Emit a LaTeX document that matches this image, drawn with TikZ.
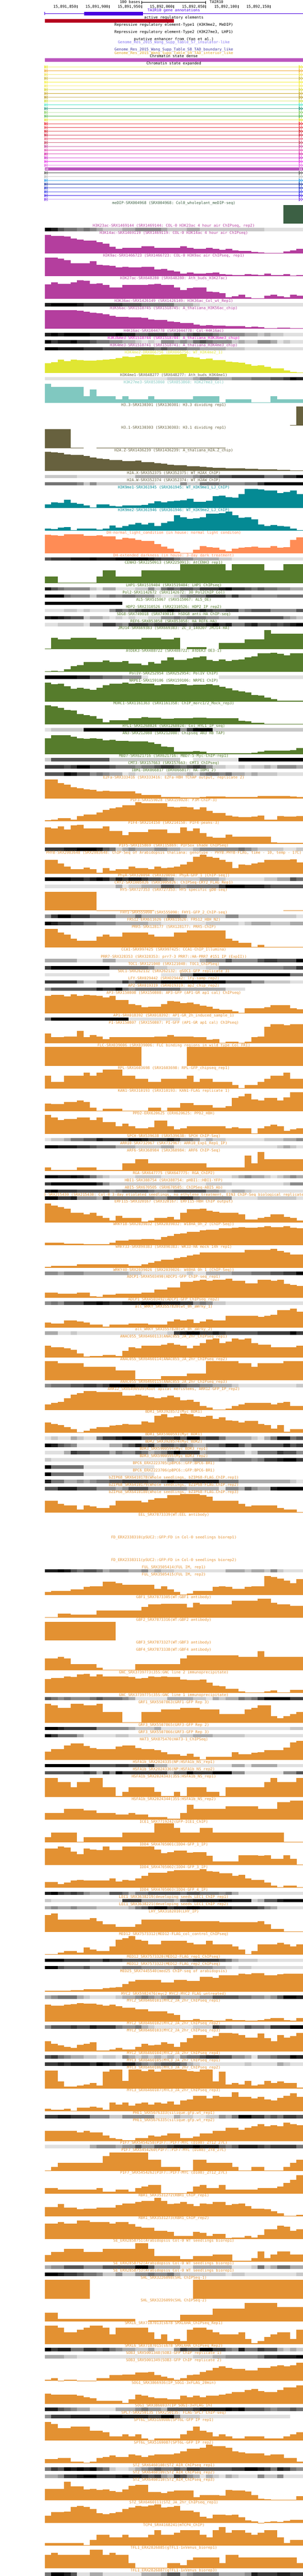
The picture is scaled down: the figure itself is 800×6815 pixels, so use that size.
\documentclass[tikz,border=0pt]{standalone}
\usepackage{fontspec}
\setmonofont{DejaVu Sans Mono}
\definecolor{ctair}{RGB}{72,0,224}
\definecolor{cred}{RGB}{181,0,30}
\definecolor{cdense}{RGB}{187,85,190}
\definecolor{csseven}{RGB}{128,112,240}
\definecolor{cseight}{RGB}{64,56,160}
\definecolor{csnine}{RGB}{218,165,32}
\definecolor{cmedip}{RGB}{60,96,68}
\definecolor{cmag}{RGB}{180,62,158}
\definecolor{cmagb}{RGB}{225,10,195}
\definecolor{cyel}{RGB}{224,230,50}
\definecolor{colv}{RGB}{103,97,62}
\definecolor{cltl}{RGB}{128,200,192}
\definecolor{cteal}{RGB}{4,138,148}
\definecolor{csal}{RGB}{255,140,85}
\definecolor{cgrn}{RGB}{86,124,44}
\definecolor{corg}{RGB}{227,145,50}
\definecolor{g1}{RGB}{224,224,224}
\definecolor{g2}{RGB}{200,200,200}
\definecolor{g3}{RGB}{170,170,170}
\definecolor{g4}{RGB}{140,140,140}
\definecolor{g5}{RGB}{115,115,115}
\definecolor{g6}{RGB}{85,85,85}
\definecolor{g7}{RGB}{58,58,58}
\definecolor{g8}{RGB}{30,30,30}
\definecolor{g9}{RGB}{0,0,0}
\tikzset{ttl/.style={font=\ttfamily\fontsize{5}{5}\selectfont,inner sep=0pt,anchor=base}}
\newcount\ty
\newcount\tk
% bar graph track: colour, title, 40 heights
\newcommand{\wig}[3]{%
	\global\advance\tk by 1
	\begin{scope}
		\clip (118,\the\ty-7) rectangle (800,\the\ty+7);
		\node[ttl,text=#1] (t\the\tk) at (459,\the\ty+3.5) {#2};
	\end{scope}
	\foreach \hh [count=\ii] in {#3} {\ifnum\hh>0\relax \fill[#1] ({118+(\ii-1)*17.05},\the\ty+55) rectangle ++(17.35,-\hh);\fi}
	\global\advance\ty by 60\relax}
% dense track: title colour, title, 40 grey levels
\newcommand{\dens}[3]{%
	\global\advance\tk by 1
	\begin{scope}
		\clip (118,\the\ty-7) rectangle (800,\the\ty+7);
		\node[ttl,text=#1] (t\the\tk) at (459,\the\ty+3.5) {#2};
	\end{scope}
	\foreach \gg [count=\ii] in {#3} {\ifnum\gg>0\relax \fill[g\gg] ({118+(\ii-1)*17.05},\the\ty+5.5) rectangle ++(17.35,9);\fi}
	\global\advance\ty by 19\relax}
\begin{document}
\begin{tikzpicture}[x=.5pt,y=-.5pt,line width=.5pt]
	\useasboundingbox (0,0) rectangle (800,6815);
	%\draw (118,0) rectangle (800,6815);
	\node[ttl,anchor=base east] (scl) at (371,9.5) {100 bases};
	\draw (374,2.5) -- (374,10.5) (374,6.5) -- (543,6.5) (543,2.5) -- (543,10.5);
	\node[ttl,anchor=base west] (asm) at (553,9.5) {TAIR10};
	\foreach \lb [count=\ii from 0] in {{15,891,850},{15,891,900},{15,891,950},{15,892,000},{15,892,050},{15,892,100},{15,892,150}} {
		\pgfmathsetmacro\xx{203.6+84.95*\ii}
		\draw (\xx,13) -- (\xx,22);
		\node[ttl,anchor=base east] (r\ii) at (\xx-2,21.5) {\lb};
	}
	\node[ttl,text=ctair] (gene) at (459,30.5) {TAIR10 gene annotations};
	\draw[ctair] (118,36) -- (800,36) (118,32) -- (118,40);
	\fill[ctair] (222,31.5) rectangle (377.5,41);
	\node[ttl] (are) at (459,49.5) {active regulatory elements};
	\fill[cred] (118,51) rectangle (459,60);
	\node[ttl] (rre1) at (459,68.5) {Repressive regulatory element-Type1 (H3K9me2, MeDIP)};
	\node[ttl] (rre2) at (459,87.5) {Repressive regulatory element-Type2 (H3K27me3, LHP1)};
	\node[ttl] (enh) at (459,106.5) {putative enhancer from (Yan et al.)};
	\node[ttl,text=csseven] (sseven) at (459,115.5) {Genome\_Res\_2015\_Wang\_Supp\_Table\_S7\_insulator-like};
	\node[ttl,text=cseight] (seight) at (459,134.5) {Genome\_Res\_2015\_Wang\_Supp\_Table\_S8\_TAD\_boundary\_like};
	\node[ttl,text=csnine] (snine) at (459,143.5) {Genome\_Res\_2015\_Wang\_Supp\_Table\_S9\_TAD\_interior\_like};
	\node[ttl] (csd) at (459,152.5) {Chromatin state dense};
	\fill[cdense] (118,154) rectangle (800,163);
	\node[ttl] (cse) at (459,171.5) {Chromatin state expanded};
	\foreach \cc [count=\kk from 0] in {E8E41C,F0A830,F0E048,C8B432,F5F032,F5E650,D2D21E,C8A82A,B4961E,C8DC32,50E6C8,1E9678,78C850,50B450,DCDC1E,E6141E,E63C46,D2141E,C81432,E65A78,BE3250,BE3C96,DC46AA,D214A0,C81EC8,E632E6,E65AE6,BA55BE,505050,B4B4B4,1E96E6,0A2896,1428C8,2832E6,3C1EE6,7832E6} {
		\edef\tmp{\noexpand\definecolor{cl}{HTML}{\cc}}\tmp
		\pgfmathsetmacro\yy{177.3+10*\kk}
		\ifnum\kk=27
			\fill[cl] (118,\yy-4) rectangle (800,\yy+4);
			\fill[white] (120,\yy) -- (123,\yy-2.5) -- (123,\yy+2.5) -- cycle (124,\yy) -- (127,\yy-2.5) -- (127,\yy+2.5) -- cycle (798,\yy) -- (795,\yy-2.5) -- (795,\yy+2.5) -- cycle (794,\yy) -- (791,\yy-2.5) -- (791,\yy+2.5) -- cycle;
		\else
			\draw[cl] (118,\yy) -- (800,\yy) (118,\yy-4) -- (118,\yy+4) (122,\yy-4) -- (119,\yy) -- (122,\yy+4) (126,\yy-4) -- (123,\yy) -- (126,\yy+4) (790,\yy-4) -- (794,\yy) -- (790,\yy+4) -- cycle (795,\yy-4) -- (799,\yy) -- (795,\yy+4);
		\fi
	}
	\global\ty=537
	\global\tk=0
	\wig{cmedip}{meDIP-SRX004968 (SRX004968: Col0\_wholeplant\_meDIP-seq)}{0,0,0,0,0,0,0,0,0,0,0,0,0,0,0,0,0,0,0,0,0,0,0,0,0,0,0,0,0,0,0,0,0,0,0,0,0,50,50,50}
	\dens{cmag}{H3K23ac-SRX1469144 (SRX1469144: COL-0 H3K23ac 4 hour air ChIPseq, rep2)}{9,8,6,5,5,4,5,4,3,2,2,2,3,3,4,4,4,4,3,2,2,2,3,3,2,2,2,2,2,2,2,2,2,2,1,1,1,1,1,1}
	\wig{cmag}{H3K14ac-SRX1469119 (SRX1469119: COL-0 H3K14ac 4 hour air ChIPseq)}{50,47,47,46,40,37,34,35,31,26,18,13,15,15,15,19,19,16,16,16,15,19,16,13,12,15,13,10,13,9,7,7,4,3,2,2,2,6,9,12}
	\wig{cmag}{H3K9ac-SRX1466723 (SRX1466723: COL-0 H3K9ac air ChIPseq, rep1)}{50,49,47,43,35,35,35,40,31,29,28,24,25,24,24,25,25,18,19,16,13,7,10,7,7,8,10,6,4,3,3,6,4,3,7,3,3,6,2,3}
	\wig{cmag}{H3K27ac-SRX648280 (SRX648280: Ath\_buds\_H3K27ac)}{39,44,40,40,44,50,48,40,42,37,31,31,37,37,37,37,39,40,37,37,31,24,29,31,31,20,18,16,5,7,11,5,2,2,9,11,7,5,11,9}
	\dens{cmag}{H3K36ac-SRX1426149 (SRX1426149: H3K36ac\_Col\_wt\_Rep1)}{8,9,9,9,9,8,7,7,7,7,7,7,6,6,6,5,5,5,5,5,3,3,3,2,1,1,1,1,1,1,1,1,1,1,1,1,1,1,1,1}
	\wig{cmag}{H3K56ac-SRX1518745 (SRX1518745: A\_thaliana\_H3K56ac\_chip)}{50,49,49,50,49,48,45,42,41,38,35,32,32,31,31,29,25,24,23,20,18,16,15,11,9,10,9,8,7,7,7,5,6,5,2,2,3,3,2,2}
	\dens{cmag}{H4K16ac-SRX1044778 (SRX1044778: Col-H4K16ac)}{8,9,8,9,9,9,9,8,8,8,8,9,8,8,6,6,7,7,7,6,7,5,6,7,6,6,5,4,4,4,4,3,3,2,3,2,2,1,1,1}
	\dens{cmagb}{H3K36me3-SRX1518744 (SRX1518744: A\_thaliana\_H3K36me3\_chip)}{9,7,8,8,9,7,7,6,5,5,4,4,3,3,2,1,2,1,4,4,3,4,3,5,6,5,4,4,4,2,3,2,2,4,4,3,1,2,1,1}
	\dens{cmag}{H3K4me3-SRX1518741 (SRX1518741: A\_thaliana\_H3K4me3\_chip)}{9,9,8,8,8,8,7,7,7,6,6,6,6,6,6,6,6,5,6,5,5,5,4,4,3,3,3,3,2,2,2,1,1,1,1,1,1,1,1,1}
	\wig{cyel}{H3K4me2-DRX066756 (DRX066756: WT\_H3K4me2\_1)}{26,29,35,32,36,34,33,33,34,36,37,40,44,43,45,49,49,48,49,49,49,50,43,41,37,38,34,34,30,29,28,24,19,21,17,12,13,7,3,1}
	\dens{colv}{H3K4me1-SRX648277 (SRX648277: Ath\_buds\_H3K4me1)}{1,1,1,1,1,1,1,1,1,1,1,1,1,1,1,1,1,1,1,2,2,2,2,3,4,4,4,3,3,4,4,4,5,5,5,6,6,7,9,8}
	\wig{cltl}{H3K27me3-SRX853860 (SRX853860: H3K27me3\_Col)}{50,43,43,43,43,43,18,35,18,18,18,10,18,10,10,10,18,10,10,10,10,10,10,18,18,18,18,2,10,10,10,10,2,2,2,18,10,10,10,10}
	\wig{colv}{H3.3-SRX130301 (SRX130301: H3.3 dividing rep1)}{0,0,0,0,0,0,0,0,0,0,0,0,0,0,0,0,0,0,0,0,0,0,0,0,0,0,0,0,0,0,0,0,0,0,0,0,0,0,2,50}
	\wig{colv}{H3.1-SRX130303 (SRX130303: H3.1 dividing rep1)}{50,50,50,50,2,2,0,0,2,2,2,2,2,2,2,2,2,2,2,2,2,2,2,2,2,2,2,2}
	\wig{colv}{H2A.Z-SRX1436239 (SRX1436239: A\_thaliana\_H2A.Z\_chip)}{50,49,48,44,43,43,40,36,33,31,29,29,26,26,27,24,24,21,19,17,15,15,13,13,11,10,9,8,7,7,7,6,6,5,4,4,3,3,2,2}
	\dens{colv}{H2A.X-SRX352375 (SRX352375: WT\_H2AX\_ChIP)}{2,2,2,2,2,1,1,1,1,1,1,1,1,1,3,3,3,3,3,3,3,3,3,4,5,5,5,6,6,7,7,7,7,7,5,5,5,7,7,9}
	\dens{colv}{H2A.W-SRX352374 (SRX352374: WT\_H2AW\_ChIP)}{5,5,5,5,5,4,2,4,2,2,2,2,2,2,2,2,2,1,1,1,1,4,2,2,5,5,5,4,4,4,4,5,5,7,9,9,9,9,9,9}
	\wig{cteal}{H3K9me1-SRX361945 (SRX361945: WT\_H3K9me1\_LJ\_ChIP)}{9,15,14,22,14,11,7,2,9,9,6,4,7,7,7,8,12,18,15,18,19,21,25,17,17,19,31,33,29,27,37,50,50,49,46,46,39,43,46,37}
	\wig{cteal}{H3K9me2-SRX361946 (SRX361946: WT\_H3K9me2\_LJ\_ChIP)}{5,4,8,9,1,5,5,6,3,6,14,8,13,16,21,17,20,13,21,24,41,35,32,33,35,45,45,47,50,41,34,35,30,17,13,15,12,11,5,1}
	\wig{csal}{DH-normal\_light\_condition (in house: normal light conditon)}{49,48,46,50,50,50,46,47,48,45,45,37,41,40,36,33,33,25,18,13,4,2,2,10,19,16,15,10,5,13,15,17,18,15,15,19,15,17,36,42}
	\dens{csal}{DH-extended\_darkness (in house: 3-day dark treatment)}{6,7,7,7,8,8,8,9,8,8,8,9,9,9,9,9,8,7,6,6,5,4,4,3,3,3,3,2,2,1,1,1,1,1,1,1,1,1,1,1}
	\wig{cgrn}{CENH3-SRX2250913 (SRX2250913: AtCENH3\_rep1)}{18,18,2,2,2,2,2,2,18,34,34,18,18,18,18,34,34,34,34,34,34,50,50,50,50,50,50,50,34,50,50,50,50,50,34,34,34,50,50,50}
	\dens{cgrn}{LHP1-SRX1519404 (SRX1519404: LHP1 ChIPseq)}{8,6,5,4,4,4,4,2,1,3,3,1,1,1,2,2,4,2,5,6,5,6,6,5,7,7,7,8,9,7,7,6,5,6,5,5,4,4,3,3}
	\dens{cgrn}{Pol2-SRX1142672 (SRX1142672: 30\_Pol2ChIP\_Col)}{9,9,9,5,4,4,4,2,4,4,5,4,5,5,4,4,4,2,1,1,2,4,5,5,5,7,7,7,5,7,5,5,4,4,4,4,5,5,5,5}
	\dens{cgrn}{AL5-SRX515067 (SRX515067: AL5\_OE)}{9,9,9,9,9,9,9,9,9,9,9,9}
	\dens{cgrn}{HDP2-SRX2310526 (SRX2310526: HDP2 IP rep2)}{1,1,1,2,2,1,2,1,1,1,4,6,5,6,7,8,8,8,8,9,8,7,7,7,8,7,6,6,7,7,4,5,6,6,6,4,4,4,4,6}
	\dens{cgrn}{SDG8-SRX749018 (SRX749018: hSDG8 anti-HA ChIP-seq)}{8,9,8,7,6,6,2,3,3,2,1,2,1,2,1,1,2,2,4,4,5,4,5,5,5,4,4,3,3,3,6,6,6,6,6,6,6,4,3,2}
	\dens{cgrn}{REF6-SRX853858 (SRX853858: HA\_REF6-HA)}{1,1,2,2,2,2,1,4,4,7,7,5,4,7,7,7,6,7,7,7,7,7,6,7,7,8,9,7,8,5,5,7,8,6,6,7,6,7,8,9}
	\wig{cgrn}{JMJ14-SRX669383 (SRX669383: ZC\_3\_140207 JMJ14-HA)}{1,30,25,25,30,30,30,30,25,25,25,25,25,25,25,30,30,30,25,25,30,0,5,5,5,0,0,16,16,16,16,25,25,25,50,41,41,41,41,41}
	\wig{cgrn}{AtDEK3-SRX488722 (SRX488722: AtDEK3 OE3-1)}{1,2,1,6,14,17,26,26,26,30,26,26,28,21,22,17,25,22,30,38,31,31,35,38,40,31,28,32,28,31,32,38,40,49,49,50,47,43,49,49}
	\dens{cgrn}{PolIV-SRX252954 (SRX252954: PolIV ChIP)}{9,9,9,9,9,8,8,6,6,5,5,5,4,4,4,1,0,0,0,0,0,0,0,0,0,0,0,1,1,1,1,1,1,1,1,1,1,1,1,1}
	\wig{cgrn}{NRPE1-SRX159106 (SRX159106: NRPE1 ChIP)}{50,46,48,41,34,36,34,31,37,43,48,48,50,48,49,48,47,43,46,46,45,46,43,44,45,46,43,39,35,30,27,24,18,16,11,7,3,2,2,3}
	\wig{cgrn}{MORC1-SRX1161363 (SRX1161358: ChIP\_morc1/2\_Mock\_rep3)}{50,48,43,38,36,27,24,21,14,5,11,11,11,16,16,19,18,18,14,14,16,16,16,17,17,16,16,16,16,16,9,8,4,4,1,1,1,1,1,1}
	\dens{cgrn}{HYL1-SRX1268024 (SRX1268024: Col\_HYL1\_IP\_seq)}{1,2,2,2,2,2,9,9,9,9,9,9,9,9,9,9,9,9,9,9,9,4,7,9,9,9,2,2,2,2,2,2,2,2,2,2,2,2,2,2}
	\wig{cgrn}{AN3-SRX212080 (SRX212080: Chipseq AN3 HB TAP)}{42,50,50,50,46,42,40,42,40,36,38,35,35,33,33,33,31,27,20,18,7,7,7,8,7,2,2,2,2,2,2,2,4,7,9,9,9,9,11,16}
	\dens{cgrn}{MBD7-SRX621716 (SRX621716: MBD7-5-Myc-ChIP-rep1)}{2,6,6,6,6,6,6,6,6,6,2,2,2,2,2,2,2,2,2,2,2,0,0,1,1,1,1,1,1,1,9,9,9,9,9,9,9,9,9,9}
	\dens{cgrn}{CMT3-SRX157663 (SRX157663: CMT3\_ChIPseq)}{7,7,7,6,7,9,9,7,7,7,6,5,5,5,4,5,5,6,7,7,6,5,6,7,6,4,2,2,1,1,2,1,2,2,3,2,4,4,4,3}
	\dens{cgrn}{IBM1-DRX066817 (DRX066817: HA-IBM1\_2)}{6,6,6,9,8,6,6,4,5,4,3,3,1,2,1,1,1,1,1,2,2,2,3,2,4,5,5,4,5,3,3,2,3,2,2,2,1,1,1,1}
	\wig{corg}{E2Fa-SRX333416 (SRX333416: E2Fa-HBH TChAP output, replicate 2)}{50,50,40,36,30,27,24,22,19,20,19,19,19,19,13,9,9,9,4,4,4,2,2,2,4,5,5,5,4,4,4,4,4,6,6,6,6,6,5,4}
	\wig{corg}{PIF3-SRX159028 (SRX159028: P3M-ChIP-3)}{2,4,8,8,4,13,17,17,22,30,33,36,42,42,50,47,47,47,47,37,36,37,36,31,36,26,21,21,15,11,10,10,11,15,4,4,13,11,11,13}
	\wig{corg}{PIF4-SRX214150 (SRX214150: PIF4-peaks-3)}{43,40,46,37,49,50,40,40,40,46,34,34,22,31,31,31,37,37,37,28,28,43,34,40,28,19,16,16,24,19,19,19,19,19,19,4,2,2,2,2}
	\dens{corg}{PIF5-SRX115869 (SRX115869: PIF5ox shade ChIPSeq)}{7,7,7,8,8,9,9,9,8,6,5,2,3,4,3,3,3,4,4,3,3,2,2,3,4,4,4,4,4,4,5,4,3,2,2,2,2,1,1,2}
	\wig{corg}{PHYB-SRX2083648 (SRX2083648: ChIP-Seq of Arabidopsis thaliana: genotype - PHYB:PHYB-FLAG, time - 10, temp - 17C)}{36,36,27,18,11,11,16,11,2,14,7,12,12,18,14,14,12,18,14,16,18,24,31,45,50,45,42,36,31,14,24,22,27,29,36,36,36,36,38,29}
	\dens{corg}{PhyA-SRX320094 (SRX320094: PhyA-GFP\_1 [ChIP-seq])}{9,9,9,9,8,8,7,8,9,8,6,8,7,8,8,7,6,6,5,4,2,2,2,2,3,3,3,2,1,1,1,1,1,1,2,2,3,3,6,5}
	\dens{corg}{CRY2-SRX1005826 (SRX1005826: ChIPSeq-CRY2\_FLAG\_Rep1)}{1,1,1,1,1,1,1,1,1,1,1,3,1,2,2,3,3,3,6,6,5,4,5,5,5,5,5,7,9,9,9,8,8,8,7,6,6,6,6,6}
	\wig{corg}{HY5-SRX727353 (SRX727353: HY5 specific gDB-seq)}{50,50,50,50,50,50,50,50,1,1,1,1,1,1,1,1,1,0,0,0,0,0,0,0,0,0,0,0,0,0,0,0,0,0,0,0,0,1,1,1}
	\dens{corg}{FHY1-SRX555090 (SRX555090: FHY1-GFP\_2\_ChIP-seq)}{4,7,9,9,7,7,7,5,5,5,5,3,3,3,5,3,3,3,3,5,5,4,2,2,2,2,2,2,4,4,2,2,2,2,2,2,2,2,2,1}
	\dens{corg}{FRS12-ERX611626 (ERX611626: FRS12\_HBH\_N2)}{9,8,7,7,6,6,5,5,4,4,4,3,3,3,3,3,2,2,1,1,1,1,1,1,1,2,2,2,2,2,1,2,3,3,3,2,2,2,3,3}
	\wig{corg}{PRR5-SRX128177 (SRX128177: PRR5-ChIP)}{50,50,40,35,24,18,18,18,29,35,29,29,40,40,40,40,35,29,29,29,40,40,46,46,46,46,46,46,24,18,13,13,2,7,2,2,2,2,2,2}
	\dens{corg}{CCA1-SRX997425 (SRX997425: CCA1-ChIP\_Illumina)}{0}
	\dens{corg}{PRR7-SRX328353 (SRX328353: prr7-3 PRR7::HA-PRR7 \#151 IP (ExpII))}{3,3,3,3,3,1,1,1,1,3,3,1,1,1,1,1,1,1,1,1,1,1,1,1,3,4,4,4,6,4,4,4,4,6,7,7,6,6,6,9}
	\dens{corg}{TOC1-SRX121040 (SRX121040: TOC1\_ChIPSeq)}{7,9,9,9,9,9,9,9,9,9,5,5,5,5,5,5,4,2,2,1,1,1,1,1,1,2,2,4,4,4,4,4,4,4,4,4,4,5,5,7}
	\dens{corg}{SOC1-SRX262132 (SRX262132: gSOC1-GFP replicate 3)}{1,1,1,1,1,1,1,1,1,1,0,0,0,0,0,0,0,0,1,1,1,5,5,9,9,9,9,9,9,9,9,9,9,9,9,9,9,9,5,5}
	\dens{corg}{LFY-SRX029442 (SRX029442: lfy-samp-rep2)}{7,7,7,7,7,4,2,2,4,4,4,4,7,5,7,7,7,7,9,9,9,9,9,9,9,9,9,9,6,6,6,6,4,4,2,2,2,2,1,1}
	\dens{corg}{AP2-SRX019319 (SRX019319: ap2\_chip\_rep2)}{4,6,6,6,6,6,6,6,8,7,7,9,5,4,5,5,5,5,5,5,5,3,3,3,3,3,3,3,1,1,1}
	\wig{corg}{AP3-SRX150808 (SRX150808: AP3-GFP (AP1-GR ap1 cal) ChIPseq)}{47,49,49,45,50,47,49,48,47,42,47,36,36,25,22,16,18,18,24,33,31,27,29,24,20,18,12,9,9,5,2,13,13,13,16,22,22,22,13,11}
	\dens{corg}{AP1-SRX018392 (SRX018392: AP1-GR\_2h\_induced\_sample\_1)}{5,9,9,9,9,9,9,9,9,9,9,9,9,1,1,1,1,1,1,1,1}
	\wig{corg}{PI-SRX150807 (SRX150807: PI-GFP (AP1-GR ap1 cal) ChIPseq)}{26,16,16,18,18,33,16,22,18,11,16,16,16,16,16,16,16,18,18,22,18,18,18,16,16,9,11,2,4,4,2,4,16,18,44,50,50,48,50,50}
	\wig{corg}{FLC-SRX039006 (SRX039006: FLC binding regions in wild type Col FRI)}{50,50,50,50,50,50,50,50,50,50,50,50,50,50,50,0,0,0,0,0,0,0,50,50,50,50,50,50,50,50,50,50,50,50,50,50,50,50,50,50}
	\wig{corg}{RPL-SRX1603698 (SRX1603698: RPL-GFP\_chipseq\_rep1)}{34,18,18,34,34,34,42,34,42,50,50,50,34,34,26,26,18,18,26,26,26,26,34,18,26,26,18,18,18,9,2,9,9,18,26,34,34,42,26,26}
	\wig{corg}{KAN1-SRX310193 (SRX310193: KAN1-FLAG replicate 1)}{20,19,19,24,24,29,24,10,2,7,7,7,2,2,2,2,10,10,2,9,9,22,22,17,17,17,10,10,13,35,39,46,32,29,35,35,28,37,50,50}
	\wig{corg}{PPD2-ERX620625 (ERX620625: PPD2\_HBH)}{50,44,37,40,40,44,44,37,44,31,31,21,27,21,15,15,18,35,35,21,12,15,21,21,21,21,21,21,15,18,15,15,2,15,21,24,21,8,12,15}
	\dens{corg}{SPCH-SRX539638 (SRX539638: SPCH ChIP-Seq)}{1,2,2,3,5,5,6,6,8,7,7,7,7,9,9,8,7,7,7,8,7,5,5,4,2,3,2,2,1,1,1,1,1,1,2,2,2,3,3,4}
	\dens{corg}{ARR10-SRX732967 (SRX732967: ARR10\_Exp1\_Rep1\_IP)}{9,9,8,8,8,7,7,6,5,5,5,3,3,3,2,2,2,2,3,3,1,1,1,1,1,1,1,1,1,1,1,1,1,1,1,1,2,3,2,1}
	\wig{corg}{ARF6-SRX368984 (SRX368984: ARF6 ChIP-Seq)}{10,2,2,2,2,10,10,10,2,2,2,2,20,20,31,31,20,20,20,20,20,20,20,20,20,10,10,10,10,10,10,41,20,50,31,31,31,31,31,31}
	\dens{corg}{RGA-SRX647775 (SRX647775: RGA\_ChIP2)}{9,9,8,8,9,8,7,5,3,2,1,1,1,1,2,2,2,2,1,1,1,1,1,1,1,1,1,1,1,2,3,4,3,3,2,1,2,3,4,3}
	\dens{corg}{HBI1-SRX388754 (SRX388754: pHBI1::HBI1-YFP)}{7,9,9,9,9,9,9,9,7,4,2,2,2,2,2,2,2,2,2,2,2,1,1,1,1,2,2,2,2,1,1,1,1,1,1,1,1,2,4,4}
	\dens{corg}{ABI5-SRX670505 (SRX670505: ChIPSeq-ABI5\_Ab)}{8,9,7,7,7,6,6,6,6,6,4,5,6,6,6,6,5,4,4,5,6,6,6,6,6,4,4,3,2,3,3,2,1,1,1,1,1,1,1,1}
	\dens{corg}{EIN3-SRX215430 (SRX215430: Col-0 3-day etiolated seedlings, no ethylene treatment, EIN3 ChIP-Seq biological replicate 1)}{9,9,7,7,8,4,4,4,3,7,5,5,5,5,5,5,5,4,4,6,6,7,7,5,4,4,4,4,4,1,1,1,1,2,2,2,2,2,2,1}
	\wig{corg}{ERF115-SRX320167 (SRX320167: ERF115-HBH ChIP output)}{50,45,41,37,25,25,21,25,17,12,5,17,12,12,12,2,5,12,12,15,8,25,35,35,37,31,28,25,25,25,21,8,8,12,15,21,21,15,12,5}
	\wig{corg}{WRKY18-SRX2039032 (SRX2039032: W18HA\_0h\_2 (ChIP-Seq))}{6,6,6,4,4,4,2,2,2,2,6,12,12,14,14,16,16,14,22,24,29,31,35,35,39,41,41,44,44,46,48,46,46,48,50,48,48,50,46,44}
	\wig{corg}{WRKY33-SRX890383 (SRX890383: WK33-HA mock 14h rep1)}{2,5,5,5,5,9,9,9,9,9,9,9,9,5,5,9,13,17,21,21,25,28,32,35,40,40,40,40,40,40,40,48,48,48,48,50,44,40,35,35}
	\dens{corg}{WRKY40-SRX2039026 (SRX2039026: W40HA\_0h\_1 (ChIP-Seq))}{4,4,3,4,4,4,3,3,3,3,3,3,3,2,2,1,1,1,1,1,1,1,2,1,1,3,3,3,3,4,4,4,5,5,5,6,6,7,7,9}
	\wig{corg}{ADCP1-SRX4503490(ADCP1-GFP ChIP-seq\_rep1)}{13,13,11,11,11,13,13,4,2,8,8,11,11,11,11,13,13,22,22,27,27,42,42,44,47,45,47,47,50,44,44,38,38,47,47,44,47,36,34,31}
	\dens{corg}{ADCP1\_SRX4503492(ADCP1-GFP\_ChIPseq\_rep2)}{4,5,4,6,6,6,8,8,9,8,7,7,8,8,8,9,9,9,8,8,8,7,7,4,5,4,2,2,1,1,1,1,1,1,1,1,1,1,1,1}
	\wig{corg}{all\_WRKY\_SRX3557820(wt\_0h\_aWrky\_1)}{13,10,10,19,19,16,13,8,8,2,8,8,8,10,10,10,8,8,8,16,22,19,22,12,16,22,19,19,31,31,31,31,31,28,31,33,46,46,50,42}
	\dens{corg}{all\_WRKY\_SRX3557828(wt\_0h\_aWrky\_2)}{3,3,1,1,2,1,1,1,1,1,1,1,1,1,1,1,1,1,1,2,7,8,9,9,7,7,8,7,6,6,6,6,6,7,7,7,7,7,9,7}
	\wig{corg}{ANAC055\_SRX6460113(ANAC055\_JA\_2hr\_ChIPseq\_rep1)}{31,27,27,24,20,11,2,4,4,7,7,4,17,27,24,31,31,31,34,38,34,31,24,31,38,47,50,38,42,50,47,50,38,34,34,27,27,27,27,31}
	\wig{corg}{ANAC055\_SRX6460114(ANAC055\_JA\_2hr\_ChIPseq\_rep2)}{50,50,44,44,44,44,35,35,35,35,35,26,26,26,2,2,2,2,10,10,10,10,17,17,17,50,50,50,50,50,44,44,35,44,44,44,44,50,50,50}
	\dens{corg}{ANAC055\_SRX6460115(ANAC055\_JA\_2hr\_ChIPseq\_rep3)}{4,5,5,5,6,6,7,7,6,7,9,9,9,9,8,8,9,9,8,7,7,6,5,5,4,4,3,3,3,2,1,1,1,1,1,1,1,1,1,2}
	\wig{corg}{ARR12\_SRX6490939(Root apical meristems, ARR12-GFP\_IP\_rep2)}{14,18,21,31,41,44,50,50,47,47,47,47,38,38,41,38,34,31,34,38,34,25,27,21,11,7,1,1,4,11,14,18,18,18,18,14,18,21,11,11}
	\wig{corg}{BDR1\_SRX3928572(Myc\_BDR1)}{27,23,20,14,9,1,5,11,15,14,18,20,23,21,21,29,27,44,49,40,43,50,49,43,42,44,36,40,32,31,27,31,31,23,20,11,20,2,9,9}
	\dens{corg}{BDR1\_SRX5900593(Myc BDR1)}{1,2,1,1,3,2,1,1,5,7,7,8,9,9,9,6,6,6,7,7,8,6,9,9,6,7,7,5,3,3,3,3,2,1,3,5,8,8,5,6}
	\dens{corg}{BDR2\_SRX3928574(Myc\_BDR2)}{9,8,6,5,4,1,1,1,1,1,3,3,5,6,8,6,7,4,6,6,5,6,4,3,3,5,5,6,8,8,6,4,6,6,6,6,6,8,6,7}
	\dens{corg}{BDR3\_SRX5900594(Myc BDR3 rep1)}{1,1,1,3,7,6,6,5,5,5,3,5,4,4,6,5,3,4,5,7,9,7,7,7,3,4,4,4,3,3,3,1,2,5,5,5,7,6,6,4}
	\dens{corg}{BDR3\_SRX5900595(Myc BDR3 rep2)}{2,1,1,1,1,1,1,1,1,1,1,1,1,1,1,1,1,1,1,3,2,3,3,4,4,4,4,5,4,5,5,5,4,5,7,7,8,9,9,7}
	\dens{corg}{BPC6\_ERX2223705(pBPC6::GFP:BPC6-BR1)}{9,5,5,5,5,5,1,1,1,1,1,1,1,1,1,1,1}
	\dens{corg}{BPC6\_ERX2223706(pBPC6::GFP:BPC6-BR1)}{9,5,5,5,5,5,1,1,1,1,1,1,1,1,1,1,1}
	\dens{corg}{bZIP68\_SRX6410178(Whole seedlings, bZIP68-FLAG.ChIP.rep1)}{8,5,5,3,3,4,3,4,5,5,6,6,7,7,7,7,6,6,7,9,8,8,8,8,8,8,8,5,5,5,3,3,3,3,3,3,3,3,2,1}
	\dens{corg}{bZIP68\_SRX6410179(Whole seedlings, bZIP68-FLAG.ChIP.rep2)}{6,6,8,8,8,6,6,6,4,4,4,3,4,6,6,6,4,4,4,4,4,4,3,3,3,3,3,1,4,4,3,6,4,3,3,8,9,9,9,9}
	\wig{corg}{bZIP68\_SRX6410180(Whole seedlings, bZIP68-FLAG.ChIP.rep3)}{31,31,24,20,20,8,20,16,12,12,20,31,31,31,31,27,35,39,39,47,47,50,50,50,47,43,31,31,31,31,24,16,20,20,20,20,12,8,8,2}
	\wig{corg}{EEL\_SRX7873339(WT:EEL antibody)}{0}
	\wig{corg}{FD\_ERX2338310(pSUC2::GFP:FD in Col-0 seedlings biorep1)}{0}
	\dens{corg}{FD\_ERX2338311(pSUC2::GFP:FD in Col-0 seedlings biorep2)}{0}
	\dens{corg}{FUL\_SRX3505414(FUL IM, rep1)}{8,8,9,8,6,5,6,6,5,3,4,4,4,3,3,4,2,3,2,2,1,1,1,1,1,1,1,1,3,3,3,2,3,3,2,4,2,1,1,1}
	\wig{corg}{FUL\_SRX3505415(FUL IM, rep2)}{8,11,11,11,15,15,22,24,24,35,35,31,28,28,28,28,28,17,24,15,8,2,4,11,11,11,22,24,22,17,17,22,24,24,50,48,44,38,31,42}
	\wig{corg}{GBF1\_SRX7873305(WT:GBF1 antibody)}{1,1,11,11,8,8,8,8,19,19,19,19,19,19,19,29,35,35,37,37,37,37,27,40,35,35,35,35,35,45,45,45,45,50,50,40,35,35,32,32}
	\wig{corg}{GBF2\_SRX7873316(WT:GBF2 antibody)}{50,50,50,50,50,50,50,50,50,50,50}
	\dens{corg}{GBF3\_SRX7873327(WT:GBF3 antibody)}{0}
	\wig{corg}{GBF4\_SRX7873338(WT:GBF4 antibody)}{31,31,36,31,17,17,17,17,7,2,2,2,2,2,17,17,17,17,17,17,17,31,40,40,40,40,40,40,40,40,36,36,36,50,36,36,36,36,36,36}
	\wig{corg}{GNC\_SRX3739773(35S:GNC line 2 immunoprecipitate)}{37,40,40,44,42,49,50,44,49,44,44,44,44,42,38,40,44,42,44,42,42,36,34,34,36,27,20,18,11,11,4,2,2,2,4,7,2,2,9,9}
	\dens{corg}{GNC\_SRX3739775(35S:GNC line 1 immunoprecipitate)}{6,5,4,5,4,4,4,5,6,5,5,5,4,3,1,1,1,1,1,3,3,3,3,2,2,1,3,2,3,3,5,4,5,7,9,9,9,9,7,7}
	\wig{corg}{GRF1\_SRX5507863(GRF1-GFP Rep 3)}{50,46,40,40,50,50,46,46,50,29,29,29,2,2,2,29,29,29,35,35,35,40,40,40,35,35,35,24,24,24,24,35,40,46,46,18,13,18,24,29}
	\dens{corg}{GRF3\_SRX5507865(GRF3-GFP Rep 2)}{9,9,8,7,7,7,7,7,4,4,4,4,4,3,2,2,2,3,1,1,1,1,1,1,1,1,1,1,1,1,1,1,1,1,1,1,1,1,2,2}
	\dens{corg}{GRF3\_SRX5507866(GRF3-GFP Rep 3)}{9,7,5,5,5,3,1,1,1,1,1,2,2,1,1,1,1,1,1,1,1,2,2,3,3,3,2,2,2,2,2,1,1,1,1,1,1,1,1,1}
	\wig{corg}{HAT3\_SRX875470(HAT3-1\_ChIPSeq)}{22,29,29,38,44,44,37,31,29,29,29,36,38,38,32,28,28,26,20,15,15,11,17,8,2,8,8,8,8,21,15,15,19,21,26,26,26,33,46,50}
	\dens{corg}{HSFA1b\_SRX2024335(NP:HSFA1b\_NS\_rep1)}{9,9,9,9,9,9,9,6,6,6,6,7,7,6,6,6,7,3,3,1,1,1,1,1,1,1,1,1,1,3,3,1,3,3,3,3,1,1,1,1}
	\dens{corg}{HSFA1b\_SRX2024336(NP:HSFA1b\_NS\_rep2)}{6,6,6,6,6,6,7,6,3,7,4,9,7,7,7,7,7,7,7,4,6,6,9,7,7,7,9,9,9,4,4,1,1,1,1,1,1,4,4,6}
	\wig{corg}{HSFA1b\_SRX2024343(35S:HSFA1b\_NS\_rep1)}{50,50,39,39,26,39,39,50,50,26,26,2,14,26,26,26,26,14,2,2,14,2,26,26,26,14,14,2,26,26,26,26,26,26,39,50,39,39,39,50}
	\wig{corg}{HSFA1b\_SRX2024344(35S:HSFA1b\_NS\_rep2)}{18,18,18,29,29,29,24,24,18,18,18,13,13,18,13,13,7,7,7,2,2,18,40,29,29,29,29,29,35,35,35,35,35,29,29,29,46,46,50,50}
	\wig{corg}{ICE1\_SRX7719242(GFP-ICE1\_ChIP)}{13,26,26,26,26,1,13,13,13,13,13,13,26,26,26,26,26,50,50,50,38,26,26,26,38,38,26,26,26,26,26,26,26,26,26,26,26,1,1,1}
	\wig{corg}{IDD4\_SRX4705001(IDD4-GFP\_1\_IP)}{43,43,49,47,36,28,43,41,39,49,39,39,49,49,49,49,49,41,31,34,38,38,33,34,34,25,9,9,9,9,26,26,26,25,26,16,16,26,16,2}
	\wig{corg}{IDD4\_SRX4705002(IDD4-GFP\_3\_IP)}{15,15,10,13,19,20,19,19,19,19,24,17,20,19,24,32,39,39,39,44,46,46,47,47,49,44,42,38,38,31,34,24,20,21,13,5,1,6,6,1}
	\dens{corg}{IDD4\_SRX4705003(IDD4-GFP\_4\_IP)}{8,9,7,6,7,6,4,3,3,3,6,6,5,3,5,5,6,6,6,6,6,5,6,6,5,5,5,4,5,3,1,1,1,1,1,1,1,1,1,1}
	\dens{corg}{LEC1\_SRX3638219(developing seeds\_LEC1\_ChIP rep1)}{2,1,1,1,1,1,1,1,1,1,1,1,7,7,7,4,4,4,4,4,3,6,7,8,8,8,8,9,9,8,8,8,2,3,6,6,8,9,9,9}
	\dens{corg}{LEC1\_SRX3638221(developing seeds\_LEC1\_ChIP rep2)}{3,4,3,3,4,3,3,3,2,2,2,2,2,3,5,6,8,9,9,7,8,8,9,9,8,8,8,8,8,7,7,7,7,6,4,3,1,1,1,1}
	\wig{corg}{LHY\_SRX3182010(LHY\_IP)}{45,49,33,33,33,33,33,36,29,20,20,13,13,13,20,33,33,33,33,33,33,29,29,29,29,29,29,26,26,26,26,26,26,29,20,8,8,1,1,1}
	\wig{corg}{MED12\_SRX7573312(MED12-FLAG\_col\_control\_ChIPseq)}{1,1,5,9,9,5,19,14,9,9,22,40,44,49,40,36,27,27,36,36,36,36,31,27,27,36,27,27,27,22,14,1,9,27,27,27,31,27,22,27}
	\dens{corg}{MED12\_SRX7573320(MED12-FLAG\_rep1\_ChIPseq)}{9,9,9,7,7,7,7,6,6,8,7,7,6,6,6,6,6,6,6,6,6,6,6,7,7,7,7,6,5,3,2,2,2,1,1,1,1,1,1,1}
	\dens{corg}{MED12\_SRX7573322(MED12-FLAG\_rep2\_ChIPseq)}{9,9,6,5,5,5,6,4,4,4,4,4,5,5,5,4,4,4,4,4,5,5,5,4,4,4,3,3,2,1,2,2,1,1,1,1,1,1,1,1}
	\wig{corg}{MED25\_SRX7445540(med25 ChIP-seq of arabidopsis)}{2,2,2,2,4,4,7,7,7,9,11,12,20,27,31,31,31,31,24,24,31,31,28,28,39,39,36,44,44,44,48,46,49,49,44,44,46,48,48,48}
	\dens{corg}{MYC2\_SRX5982476(myc2\_MYC2:MYC2\_FLAG\_untreated)}{3,4,5,5,5,3,2,1,1,1,1,2,3,3,4,5,4,3,4,5,5,3,3,3,4,4,6,6,6,6,5,5,4,4,3,4,6,9,9,8}
	\wig{corg}{MYC2\_SRX6460101(MYC2\_JA\_2hr\_ChIPseq\_rep1)}{44,42,42,44,46,49,47,48,45,42,44,40,36,36,33,33,27,27,27,21,17,4,4,7,4,4,2,3,6,4,4,3,3,4,7,9,9,4,3,9}
	\dens{corg}{MYC2\_SRX6460102(MYC2\_JA\_2hr\_ChIPseq\_rep2)}{4,6,6,6,7,6,6,8,7,7,7,5,4,4,5,3,2,1,1,1,1,1,1,2,2,2,7,6,5,4,4,6,5,5,4,7,7,7,9,9}
	\wig{corg}{MYC2\_SRX6460103(MYC2\_JA\_2hr\_ChIPseq\_rep3)}{27,20,16,12,9,18,20,24,2,3,5,9,5,5,12,20,16,18,24,20,12,24,35,43,43,36,41,49,49,47,43,37,37,47,35,27,43,37,41,49}
	\dens{corg}{MYC2\_SRX6460104(MYC2\_JA\_2hr\_ChIPseq\_rep4)}{6,7,5,4,3,3,2,2,1,2,2,1,4,3,2,3,2,3,2,3,2,4,5,5,6,7,7,6,6,4,4,3,1,4,4,5,6,6,9,8}
	\dens{corg}{MYC3\_SRX6460105(MYC3\_JA\_2hr\_ChIPseq\_rep1)}{7,7,8,7,8,8,8,7,9,8,7,6,8,8,6,5,4,5,6,6,6,5,3,2,1,1,1,1,1,1,1,2,1,1,1,1,3,2,1,1}
	\wig{corg}{MYC3\_SRX6460106(MYC3\_JA\_2hr\_ChIPseq\_rep2)}{47,47,18,5,5,8,10,15,8,44,50,50,20,50,50,46,50,44,50,50,50,50,46,45,50,50,18,44,10,15,10,20,8,10,20,15,18,15,15,2}
	\wig{corg}{MYC3\_SRX6460107(MYC3\_JA\_2hr\_ChIPseq\_rep3)}{6,3,3,6,1,9,9,12,9,3,22,17,22,14,20,22,17,22,20,26,17,28,31,41,41,34,41,38,38,50,38,38,34,38,31,28,35,41,47,38}
	\dens{corg}{PHE1\_SRX5676333(silique.gfp.wt\_rep1)}{7,7,8,8,7,7,7,4,4,4,2,2,4,4,4,4,4,1,1,1,3,2,2,1,1,2,2,4,3,5,9,9,7,7,5,6,5,7,7,6}
	\wig{corg}{PHE1\_SRX5676335(silique.gfp.wt\_rep2)}{27,27,27,27,27,23,27,23,23,15,8,5,2,2,8,8,15,12,15,20,20,8,8,12,20,20,27,27,35,35,30,35,39,45,39,42,39,49,45,42}
	\dens{corg}{PIF7\_SRX5454258(PIF7::PIF7-MYC (D108)\_ZT12\_27C)}{1,1,1,1,1,1,1,3,4,4,4,3,4,4,6,4,4,6,6,7,8,8,8,9,8,8,8,6,5,6,8,8,8,7,6,7,7,7,7,5}
	\wig{corg}{PIF7\_SRX5454260(PIF7::PIF7-MYC (D108)\_ZT8\_27C)}{1,10,21,21,21,21,21,21,21,39,48,48,48,48,48,48,29,29,10,10,10,1,1,29,29,21,21,21,21,10,1,1,10,10,1,1,1,10,21,29}
	\wig{corg}{PIF7\_SRX5454262(PIF7::PIF7-MYC (D108)\_ZT12\_27C)}{14,14,10,10,10,10,10,10,14,5,5,10,10,5,14,18,23,23,1,1,1,1,5,18,23,14,14,23,10,10,10,10,10,14,14,14,18,28,36,49}
	\wig{corg}{RBR1\_SRX3531272(RBR1\_ChIP\_rep1)}{24,24,32,22,22,18,20,20,22,22,22,29,34,34,37,40,40,48,40,32,34,37,32,27,34,32,37,37,29,32,34,27,20,20,18,13,8,1,1,3}
	\wig{corg}{RBR1\_SRX3531273(RBR1\_ChIP\_rep2)}{40,40,44,40,40,49,49,44,44,44,40,44,44,39,32,29,29,21,21,19,8,8,8,19,16,8,13,13,2,4,4,7,4,10,26,26,35,32,21,26}
	\wig{corg}{SE\_ERX2858751(Arabidopsis Col-0 WT seedlings biorep1)}{17,25,25,33,33,33,25,25,25,33,33,33,33,33,49,49,33,15,15,15,15,7,7,15,15,15,18,18,18,2,2,2,9,27,9,18,27,27,18,18}
	\dens{corg}{SE\_ERX2858752(Arabidopsis Col-0 WT seedlings biorep1)}{3,4,4,6,6,6,4,4,4,6,6,6,6,6,9,9,6,3,3,3,3,1,1,3,3,3,3,3,3,1,1,1,2,5,2,3,5,5,3,3}
	\dens{corg}{SE\_ERX2858753(Arabidopsis Col-0 WT seedlings biorep1)}{9,9,8,7,7,6,5,5,4,2,2,4,2,2,4,4,5,4,4,5,3,2,2,2,2,2,2,2,1,2,2,1,1,1,1,1,1,1,1,2}
	\wig{corg}{SHL\_SRX3226098(SHL ChIPSeq-1)}{50,50,50,50,50,50,50,0,0,0,0,0,0,0,0,0,0,0,0,0,0,0,0,50,50,50,50,50,50,50,50,50,50,50,50,50,50,50,50,50}
	\wig{corg}{SHL\_SRX3226099(SHL ChIPSeq-2)}{23,23,6,6,6,6,6,6,6,6,6,6,6,6,0,0,2,2,2,2,2,17,17,17,17,17,33,33,33,33,33,49,49,49,49,49,38,38,38,38}
	\wig{corg}{SMXL6\_SRX7187013(s678 SMXL6HA\_ChIPseq\_Rep1)}{49,49,43,31,31,37,43,49,49,43,26,43,43,43,43,43,31,13,26,7,13,7,37,43,43,37,31,26,26,26,31,13,2,7,19,26,31,31,13,37}
	\dens{corg}{SMXL6\_SRX7187015(s678 SMXL6HA\_ChIPseq\_Rep2)}{9,7,8,8,5,5,7,7,6,7,5,4,3,3,2,2,3,1,1,1,4,7,6,6,9,9,7,7,5,4,8,5,5,7,6,6,3,2,3,2}
	\dens{corg}{SOB3\_SRX5001348(SOB3-GFP ChIP replicate 1)}{3,3,3,2,2,1,1,1,1,1,1,1,1,1,1,1,1,1,1,1,1,1,1,2,2,2,3,3,4,4,4,4,4,5,7,7,8,8,8,9}
	\wig{corg}{SOB3\_SRX5001349(SOB3-GFP ChIP replicate 2)}{4,8,1,4,4,1,1,1,8,8,15,15,17,17,22,22,24,15,11,8,4,8,15,17,24,28,35,39,35,32,32,28,28,35,35,39,41,39,41,49}
	\wig{corg}{SOG1\_SRX3866936(IP\_SOG1-3xFLAG\_20min)}{27,24,24,24,24,21,17,14,7,7,7,7,2,11,24,21,17,14,14,11,11,21,17,21,17,21,21,24,27,30,30,36,39,33,30,30,36,43,43,49}
	\dens{corg}{SOG1\_SRX3866937(IP\_SOG1-3xFLAG\_1h)}{8,8,6,5,4,3,3,1,1,1,1,3,3,3,4,5,4,4,3,6,6,6,6,7,8,8,8,8,9,8,9,6,6,6,5,4,5,5,6,5}
	\dens{corg}{SPL7-SRX250135 (SRX250135: FLAG-SPL7 ChIP-seq)}{4,7,7,7,8,8,8,8,8,8,9,9,8,8,8,8,7,7,9,9,5,2,2,2,1,1,1,1,1,1,1,1,1,1,1,1,1,1}
	\wig{corg}{SPT6L\_SRX5169086(SPT6L-GFP IP rep1)}{49,44,33,33,38,38,38,27,27,22,11,11,17,11,17,6,2,6,6,6,6,17,27,38,27,22,11,17,11,6,6,11,11,11,6,6,6,11,17,22}
	\wig{corg}{SPT6L\_SRX5169087(SPT6L-GFP IP rep2)}{11,11,14,14,4,4,2,4,14,17,21,17,17,24,21,17,21,24,24,24,27,32,39,39,42,49,46,46,42,32,29,27,27,27,21,24,24,14,14,4}
	\dens{corg}{STZ\_SRX6460108(STZ\_AIR\_ChIPseq\_rep1)}{5,7,6,9,8,9,8,9,6,5,2,1,1,2,3,4,5,6,5,5,6,5,7,7,6,6,6,6,6,7,7,9,9,8,7,5,8,7,5,4}
	\dens{corg}{STZ\_SRX6460109(STZ\_AIR\_ChIPseq\_rep2)}{3,3,4,7,7,8,9,9,7,7,7,8,9,8,8,7,6,7,4,3,7,6,4,3,1,3,2,1,3,2,1,1,1,4,2,2,4,1,1,1}
	\wig{corg}{STZ\_SRX6460110(STZ\_AIR\_ChIPseq\_rep3)}{31,31,31,49,37,37,29,31,28,29,25,22,29,39,41,41,22,22,20,24,26,26,26,8,14,14,14,13,28,26,26,24,14,4,3,2,2,2,2,11}
	\wig{corg}{STZ\_SRX6460111(STZ\_JA\_2hr\_ChIPseq\_rep1)}{19,29,29,30,43,46,43,37,27,24,27,29,37,42,46,44,47,49,42,43,46,33,33,29,17,13,22,22,21,22,16,7,5,1,3,5,3,6,9,9}
	\wig{corg}{TCP4\_SRX4168241(mTCP4\_ChIP)}{7,7,7,7,7,7,2,15,29,29,22,22,29,22,22,22,29,42,29,29,35,42,42,42,29,22,42,49,35,42,42,35,29,35,42,42,22,7,15,15}
	\wig{corg}{TFL1\_ERX2826885(gTFL1-1xVenus\_biorep1)}{36,42,36,36,36,36,36,49,49,36,42,36,36,14,2,2,2,2,2,14,14,9,22,29,29,29,29,14,36,36,29,29,29,29,29,29,29,29,29,14}
	\dens{corg}{TFL1\_ERX2826887(gTFL1-1xVenus\_biorep3)}{5,9,9,8,6,1,1,3,3,1,1,1,1,1,1,3,3,3,4,6,6,3,4,5,5,5,5,3,3,3,3,4,8,7,7,7,8,8,7,7}
\end{tikzpicture}
\end{document}
